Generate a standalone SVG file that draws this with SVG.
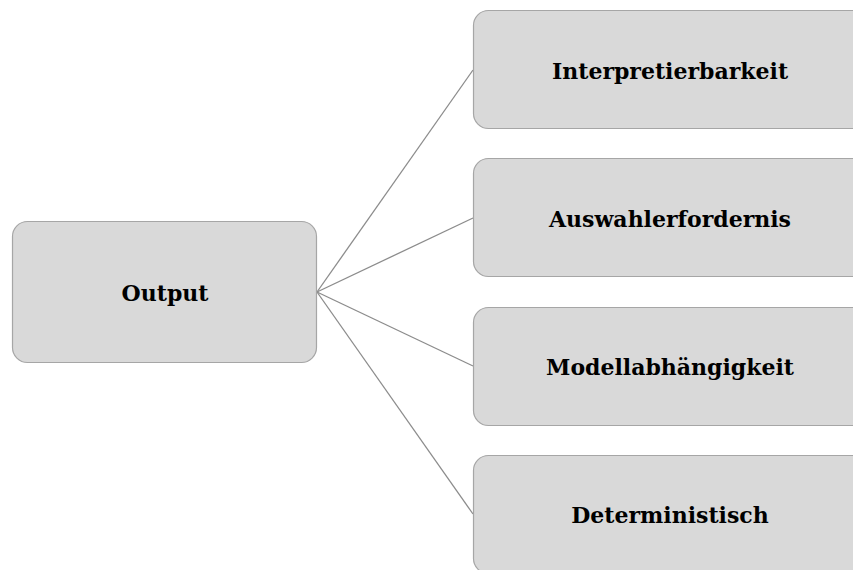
<svg xmlns="http://www.w3.org/2000/svg" width="853" height="570" viewBox="0 0 853 570">
  <style>
    .box { fill: #d9d9d9; stroke: #a6a6a6; stroke-width: 1.2; }
    .label { font-family: "DejaVu Serif", "Liberation Serif", serif; font-weight: bold; font-size: 22px; fill: #000; text-anchor: middle; dominant-baseline: central; }
    .link { stroke: #8c8c8c; stroke-width: 1.3; fill: none; }
  </style>
  <rect width="853" height="570" fill="#ffffff"/>
  <g id="connectors">
    <line class="link" x1="317" y1="292" x2="473" y2="70"/>
    <line class="link" x1="317" y1="292" x2="473" y2="218"/>
    <line class="link" x1="317" y1="292" x2="473" y2="366"/>
    <line class="link" x1="317" y1="292" x2="473" y2="514"/>
  </g>
  <g id="output">
    <rect class="box" x="12.5" y="221.5" width="304" height="141" rx="15"/>
    <text class="label" x="165" y="293">Output</text>
  </g>
  <g id="interpretierbarkeit">
    <rect class="box" x="473.5" y="10.5" width="394" height="118" rx="15"/>
    <text class="label" x="670" y="71">Interpretierbarkeit</text>
  </g>
  <g id="auswahlerfordernis">
    <rect class="box" x="473.5" y="158.5" width="394" height="118" rx="15"/>
    <text class="label" x="670" y="219">Auswahlerfordernis</text>
  </g>
  <g id="modellabhaengigkeit">
    <rect class="box" x="473.5" y="307.5" width="394" height="118" rx="15"/>
    <text class="label" x="670" y="367">Modellabhängigkeit</text>
  </g>
  <g id="deterministisch">
    <rect class="box" x="473.5" y="455.5" width="394" height="118" rx="15"/>
    <text class="label" x="670" y="515">Deterministisch</text>
  </g>
</svg>
